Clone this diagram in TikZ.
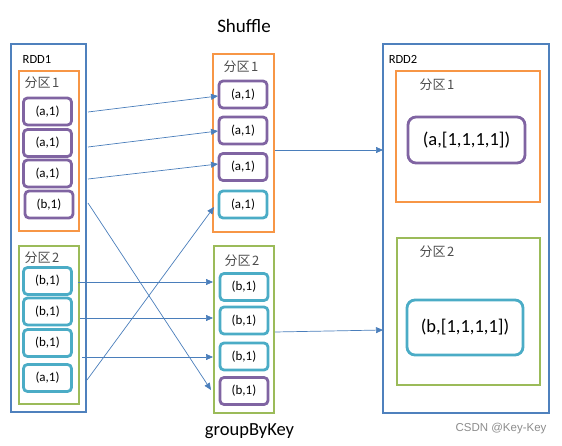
\documentclass[tikz,border=0pt]{standalone}
\usepackage{fontspec}
\setmainfont{Carlito}
\newfontfamily\cjk{Noto Sans CJK SC}
\newfontfamily\wmfont{Liberation Sans}
\usetikzlibrary{arrows.meta}
\definecolor{rddblue}{HTML}{4F81BD}
\definecolor{orng}{HTML}{F79646}
\definecolor{grn}{HTML}{9BBB59}
\definecolor{purp}{HTML}{8064A2}
\definecolor{cyn}{HTML}{4BACC6}
\definecolor{arrc}{HTML}{4A7EBB}
\begin{document}
\begin{tikzpicture}[x=1pt,y=-1pt,
  rddbox/.style={draw=rddblue,line width=2.8pt,inner sep=0pt},
  obox/.style={draw=orng,line width=2.6pt,inner sep=0pt},
  gbox/.style={draw=grn,line width=2.6pt,inner sep=0pt},
  item/.style={rounded corners=4pt,line width=2.8pt,inner sep=0pt,
    minimum width=48pt,minimum height=27pt,font=\fontsize{13}{14}\selectfont},
  pitem/.style={item,draw=purp},
  citem/.style={item,draw=cyn},
  lbl/.style={font=\fontsize{12.5}{14}\selectfont,inner sep=0pt},
  plbl/.style={font=\cjk\fontsize{13}{14}\selectfont,text=black!70,inner sep=0pt},
  arr/.style={draw=arrc,line width=0.7pt,-{Triangle[length=7pt,width=6pt]}}
]
\useasboundingbox (0,0) rectangle (562,446);

% RDD1
\node[rddbox,minimum width=75pt,minimum height=368pt] (rdd1) at (48.5,228) {};
\node[lbl] (rdd1l) at (37,59) {RDD1};
\node[obox,minimum width=60pt,minimum height=160pt] (lo) at (49,151) {};
\node[plbl] (lol) at (42,83) {分区\hspace{1.5pt}1};
\node[gbox,minimum width=60pt,minimum height=158pt] (lg) at (49,325) {};
\node[plbl] (lgl) at (42,258) {分区\hspace{1.5pt}2};

\node[pitem] (l1) at (47.5,111.5) {(a,1)};
\node[pitem] (l2) at (47.5,143) {(a,1)};
\node[pitem] (l3) at (47.5,173.5) {(a,1)};
\node[pitem] (l4) at (49,204.5) {(b,1)};
\node[citem] (l5) at (47.5,281) {(b,1)};
\node[citem] (l6) at (47.5,311.5) {(b,1)};
\node[citem] (l7) at (47.5,343) {(b,1)};
\node[citem] (l8) at (47.5,378) {(a,1)};

% middle
\node[font=\fontsize{19}{22}\selectfont,inner sep=0pt] (shuf) at (244,26) {Shuffle};
\node[obox,minimum width=61pt,minimum height=178pt] (mo) at (243.5,143) {};
\node[plbl] (mol) at (241,67) {分区\hspace{1.5pt}1};
\node[gbox,minimum width=60pt,minimum height=167pt] (mg) at (244,329.5) {};
\node[plbl] (mgl) at (242,261) {分区\hspace{1.5pt}2};

\node[pitem] (m1) at (243,94.5) {(a,1)};
\node[pitem] (m2) at (243,130.5) {(a,1)};
\node[pitem] (m3) at (243,167) {(a,1)};
\node[citem] (m4) at (243,204.5) {(a,1)};
\node[citem] (m5) at (244,287) {(b,1)};
\node[citem] (m6) at (244,320.5) {(b,1)};
\node[citem] (m7) at (244,356.5) {(b,1)};
\node[pitem] (m8) at (244,391) {(b,1)};
\node[font=\fontsize{18.5}{22}\selectfont,inner sep=0pt] (gbk) at (249.5,431) {groupByKey};

% RDD2
\node[rddbox,minimum width=166pt,minimum height=369pt] (rdd2) at (466,228.5) {};
\node[lbl] (rdd2l) at (403,59) {RDD2};
\node[obox,minimum width=144pt,minimum height=131pt] (ro) at (468,136.5) {};
\node[plbl] (rol) at (437,85) {分区\hspace{1.5pt}1};
\node[gbox,minimum width=143pt,minimum height=147pt] (rg) at (468.5,311.5) {};
\node[plbl] (rgl) at (437,252) {分区\hspace{1.5pt}2};
\node[draw=purp,line width=2.8pt,rounded corners=8pt,minimum width=117pt,minimum height=46pt,
  font=\fontsize{18.5}{22}\selectfont,inner sep=0pt] (ra) at (466.5,140) {(a,[1,1,1,1])};
\node[draw=cyn,line width=2.8pt,rounded corners=8pt,minimum width=116pt,minimum height=55pt,
  font=\fontsize{18.5}{22}\selectfont,inner sep=0pt] (rb) at (465,327.5) {(b,[1,1,1,1])};

\node[font=\wmfont\fontsize{11.5}{13}\selectfont,text=black!45,inner sep=0pt] (wm) at (501,429) {CSDN @Key-Key};

% connector endpoints
\coordinate (s1) at (88,112);
\coordinate (s2) at (88,147);
\coordinate (s3) at (88,179);
\coordinate (s4) at (88,203);
\coordinate (s5) at (87,380);
\coordinate (s6) at (78,282);
\coordinate (s7) at (80,318);
\coordinate (s8) at (82,357);
\coordinate (e1) at (218,96);
\coordinate (e2) at (218,131);
\coordinate (e3) at (218,164);
\coordinate (e4) at (211,390);
\coordinate (e5) at (214,207);
\coordinate (e6) at (213,282);
\coordinate (e7) at (213,318);
\coordinate (e8) at (213,357);
\coordinate (s9) at (275,150);
\coordinate (e9) at (383,150);
\coordinate (s10) at (275,332);
\coordinate (e10) at (383,330);

\draw[arr] (s1) -- (e1);
\draw[arr] (s2) -- (e2);
\draw[arr] (s3) -- (e3);
\draw[arr] (s4) -- (e4);
\draw[arr] (s5) -- (e5);
\draw[arr] (s6) -- (e6);
\draw[arr] (s7) -- (e7);
\draw[arr] (s8) -- (e8);
\draw[arr] (s9) -- (e9);
\draw[arr] (s10) -- (e10);
\end{tikzpicture}
\end{document}
